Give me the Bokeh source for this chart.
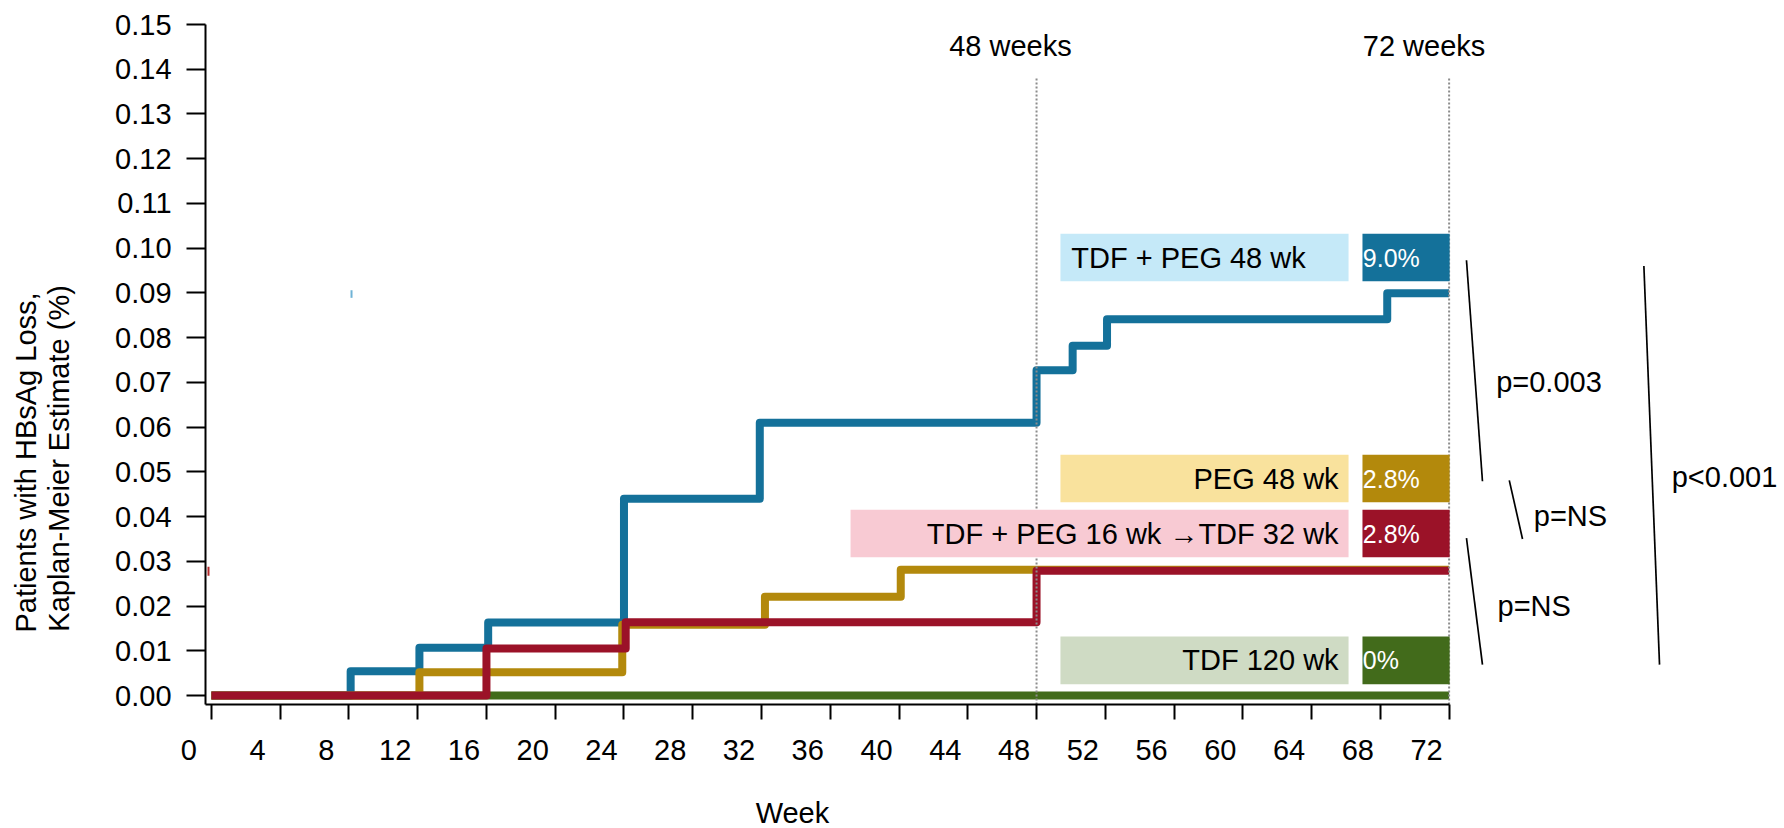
import numpy as np
from bokeh.plotting import figure
from bokeh.models import (Range1d, LinearAxis, FixedTicker, PrintfTickFormatter,
                          CustomJSTickFormatter)
from bokeh.embed import file_html
from bokeh.resources import INLINE
from bokeh.core.properties import value

# ---------------- data ----------------
x_ticks = list(range(0, 73, 4))
y_ticks = [round(0.01 * i, 2) for i in range(16)]
end_week = 72

series_names = ["TDF + PEG 48 wk", "PEG 48 wk",
                "TDF + PEG 16 wk \u2192TDF 32 wk", "TDF 120 wk"]
pct_labels = ["9.0%", "2.8%", "2.8%", "0%"]

blue_weeks = [0, 8.1, 12.1, 16.1, 24.0, 31.9, 48.0, 50.1, 52.1, 68.4]
blue_loss = [0.0, 0.0054, 0.0107, 0.0163, 0.0440, 0.0610, 0.0727, 0.0782, 0.0841, 0.0899]
gold_weeks = [0, 12.1, 23.9, 32.2, 40.1]
gold_loss = [0.0, 0.0052, 0.0158, 0.0221, 0.0281]
red_weeks = [0, 16.0, 24.1, 48.0]
red_loss = [0.0, 0.0105, 0.0164, 0.0279]
green_weeks = [0]
green_loss = [0.0]

milestone_weeks = [48, 72]
milestone_labels = ["48 weeks", "72 weeks"]
p_labels = ["p=0.003", "p=NS", "p=NS", "p<0.001"]
x_title = "Week"
y_title = ["Patients  with HBsAg Loss,", "Kaplan-Meier Estimate (%)"]

# ---------------- styles / layout ----------------
FONT = "Liberation Sans"
FS = "29px"
line_colors = ["#14719a", "#b3890c", "#9b1228", "#426b1b"]
light_colors = ["#c5e9f8", "#f9e29d", "#f8cad3", "#cfdbc4"]

box_bottom = [0.0926, 0.0432, 0.0309, 0.0025]
box_top = [0.1032, 0.0538, 0.0415, 0.0132]
light_left = [49.39, 49.39, 37.18, 49.39]
light_right = 66.15
dark_left, dark_right = 66.96, 72.03
label_anchor_x = [50.02, 65.57, 65.57, 65.57]
label_align = ["left", "right", "right", "right"]

p_x0 = [73.01, 75.50, 73.01, 83.33]
p_y0 = [0.0973, 0.0481, 0.0352, 0.0960]
p_x1 = [73.94, 76.27, 73.94, 84.24]
p_y1 = [0.0479, 0.0350, 0.0069, 0.0069]
p_tx = [77.81, 79.06, 76.95, 88.02]
p_ty = [0.0700, 0.0402, 0.0201, 0.0488]

# the frame covers the whole canvas; axes are pinned at fixed locations
X0, X1 = -12.269, 91.51
Y0, Y1 = -0.02973, 0.15537
AXIS_X = -0.343
AXIS_Y = -0.002
Y_TOP = 0.15
LABEL_SHIFT = 1.31

p = figure(width=1784, height=828, x_range=Range1d(X0, X1), y_range=Range1d(Y0, Y1),
           output_backend="svg", toolbar_location=None,
           x_axis_type=None, y_axis_type=None,
           min_border_left=0, min_border_right=0, min_border_top=0, min_border_bottom=0)
p.outline_line_color = None
p.xgrid.visible = False
p.ygrid.visible = False
p.background_fill_color = "white"
p.border_fill_color = "white"

# y axis
yax = LinearAxis(ticker=FixedTicker(ticks=y_ticks), formatter=PrintfTickFormatter(format="%.2f"),
                 fixed_location=AXIS_X)
yax.bounds = (AXIS_Y, Y_TOP)
yax.major_tick_out = 19
yax.major_tick_in = 0
yax.minor_tick_out = 0
yax.minor_tick_in = 0
yax.major_tick_line_width = 2
yax.axis_line_width = 2
yax.major_label_standoff = 15
yax.major_label_text_font = FONT
yax.major_label_text_font_size = FS
yax.major_label_text_color = "black"
p.add_layout(yax, "left")

# x axis (line + ticks)
xax = LinearAxis(ticker=FixedTicker(ticks=x_ticks), formatter=CustomJSTickFormatter(code="return ''"),
                 fixed_location=AXIS_Y)
xax.bounds = (AXIS_X, end_week)
xax.major_tick_out = 15
xax.major_tick_in = 0
xax.minor_tick_out = 0
xax.minor_tick_in = 0
xax.major_tick_line_width = 2
xax.axis_line_width = 2
xax.major_label_standoff = 0
xax.major_label_text_font_size = "1px"
p.add_layout(xax, "below")

# x tick labels (offset to the left as in the original)
p.extra_x_ranges = {"lab": Range1d(X0 + LABEL_SHIFT, X1 + LABEL_SHIFT)}
xlab = LinearAxis(x_range_name="lab", ticker=FixedTicker(ticks=x_ticks), fixed_location=AXIS_Y)
xlab.axis_line_color = None
xlab.major_tick_out = 0
xlab.major_tick_in = 0
xlab.minor_tick_out = 0
xlab.minor_tick_in = 0
xlab.major_label_standoff = 36
xlab.major_label_text_font = FONT
xlab.major_label_text_font_size = FS
xlab.major_label_text_color = "black"
p.add_layout(xlab, "below")

# step curves
def step_xy(weeks, vals):
    return list(weeks) + [end_week], list(vals) + [vals[-1]]

curves = [(green_weeks, green_loss, line_colors[3]),
          (blue_weeks, blue_loss, line_colors[0]),
          (gold_weeks, gold_loss, line_colors[1]),
          (red_weeks, red_loss, line_colors[2])]
for w, v, c in curves:
    xs, ys = step_xy(w, v)
    p.step(xs, ys, mode="after", line_color=c, line_width=8, line_join="round", line_cap="butt")

# small stray marks of the original
p.segment(x0=[blue_weeks[1] + 0.05], y0=[blue_loss[-1] + 0.0007], x1=[blue_weeks[1] + 0.05],
          y1=[blue_loss[-1] - 0.0010], line_color="#6fb3d6", line_width=2)
p.segment(x0=[-0.17], y0=[gold_loss[-1] + 0.0007], x1=[-0.17], y1=[gold_loss[-1] - 0.0013],
          line_color="#b52a2a", line_width=2)

# milestone dotted lines
p.segment(x0=milestone_weeks, y0=[AXIS_Y] * 2, x1=milestone_weeks, y1=[0.1381] * 2,
          line_color="#8c8c8c", line_width=2, line_dash="2 2")
p.text(x=[46.48, 70.54], y=[0.1452] * 2, text=milestone_labels,
       text_font=value(FONT), text_font_size=FS, text_align="center",
       text_baseline="middle", text_color="black")

# legend boxes
p.quad(left=light_left, right=[light_right] * 4, bottom=box_bottom, top=box_top,
       fill_color=light_colors, line_color=None)
p.quad(left=[dark_left] * 4, right=[dark_right] * 4, bottom=box_bottom, top=box_top,
       fill_color=line_colors, line_color=None)
mid = [(b + t) / 2 for b, t in zip(box_bottom, box_top)]
for i in range(4):
    p.text(x=[label_anchor_x[i]], y=[mid[i]], text=[series_names[i]],
           text_font=value(FONT), text_font_size=FS, text_align=label_align[i],
           text_baseline="middle", text_color="black")
p.text(x=[dark_left + 0.02] * 4, y=mid, text=pct_labels,
       text_font=value(FONT), text_font_size="25px", text_align="left",
       text_baseline="middle", text_color="white")

# p-value brackets
p.segment(x0=p_x0, y0=p_y0, x1=p_x1, y1=p_y1, line_color="black", line_width=1.7)
p.text(x=p_tx, y=p_ty, text=p_labels, text_font=value(FONT), text_font_size=FS,
       text_align="center", text_baseline="middle", text_color="black")

# axis titles
p.text(x=[33.8], y=[-0.0262], text=[x_title], text_font=value(FONT), text_font_size=FS,
       text_align="center", text_baseline="alphabetic", text_color="black")
p.text(x=[-10.76, -8.89], y=[0.0530, 0.0530], text=y_title, angle=np.pi / 2,
       text_font=value(FONT), text_font_size="29px", text_align="center",
       text_baseline="alphabetic", text_color="black")

open("out.html", "w").write(file_html(p, INLINE))
